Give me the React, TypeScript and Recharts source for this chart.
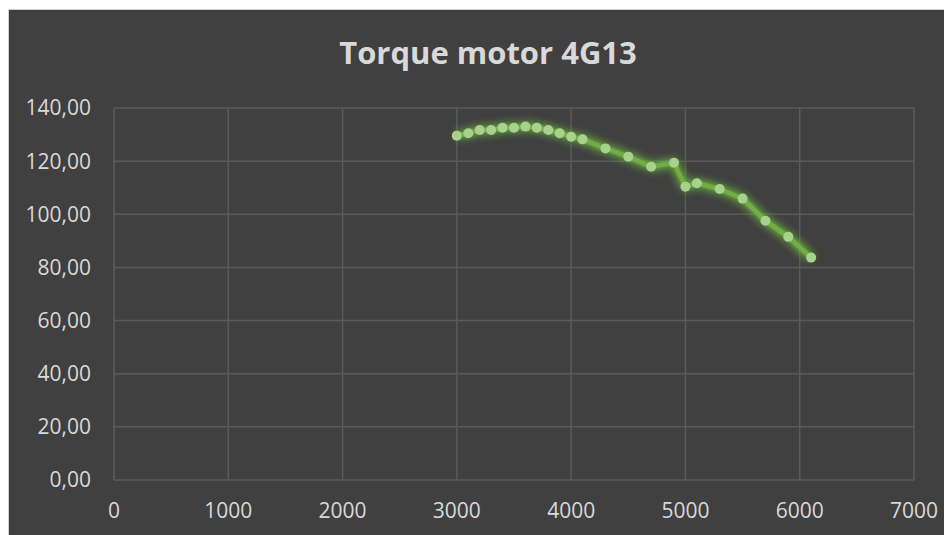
import React from "react";
import { CartesianGrid, Line, LineChart, XAxis, YAxis } from "recharts";

const rpm = [3000, 3100, 3200, 3300, 3400, 3500, 3600, 3700, 3800, 3900, 4000, 4100, 4300, 4500, 4700, 4900, 5000, 5100, 5300, 5500, 5700, 5900, 6100];
const torque = [129.6, 130.5, 131.7, 131.7, 132.6, 132.6, 133.0, 132.6, 131.7, 130.5, 129.2, 128.2, 124.8, 121.7, 117.9, 119.4, 110.4, 111.7, 109.5, 105.9, 97.6, 91.5, 83.7];
const xTicks = [0, 1000, 2000, 3000, 4000, 5000, 6000, 7000];
const yTicks = [0, 20, 40, 60, 80, 100, 120, 140];

const data = rpm.map((r, i) => ({ rpm: r, torque: torque[i] }));

const textColor = "#d9d9d9";
const gridColor = "#5a5a5a";
const fontFamily = "'Open Sans', sans-serif";

export default function App() {
  return (
    <div style={{ position: "relative", width: 943, height: 525, marginTop: 1, background: "#404040", borderLeft: "1px solid #d0d0d0", borderTop: "1px solid #d0d0d0", overflow: "hidden" }}>
      <style>{`html,body{overflow:hidden} .recharts-line{filter:drop-shadow(0 0 5px rgba(112,190,60,0.9)) drop-shadow(0 0 2px rgba(112,190,60,0.8))}`}</style>
      <div style={{ position: "absolute", top: 21, left: 0, width: 958, textAlign: "center", color: textColor, fontFamily, fontWeight: 700, fontSize: 31 }}>
        Torque motor 4G13
      </div>
      <LineChart width={943} height={525} data={data} margin={{ top: 98, right: 38, left: 0, bottom: 25 }}>
        <CartesianGrid stroke={gridColor} strokeWidth={1.5} />
        <XAxis
          dataKey="rpm"
          type="number"
          domain={[0, 7000]}
          ticks={xTicks}
          axisLine={false}
          tickLine={false}
          height={30}
          tickMargin={17}
          tick={{ fill: textColor, fontSize: 21, fontFamily }}
        />
        <YAxis
          domain={[0, 140]}
          ticks={yTicks}
          width={105}
          axisLine={false}
          tickLine={false}
          tickSize={0}
          tickMargin={23}
          tickFormatter={(v: number) => v.toFixed(2).replace(".", ",")}
          tick={{ fill: textColor, fontSize: 21, fontFamily }}
        />
        <Line
          dataKey="torque"
          stroke="#70ad47"
          strokeWidth={4.5}
          dot={{ r: 5, fill: "#a9d18e", stroke: "none" }}
          isAnimationActive={false}
        />
      </LineChart>
    </div>
  );
}
